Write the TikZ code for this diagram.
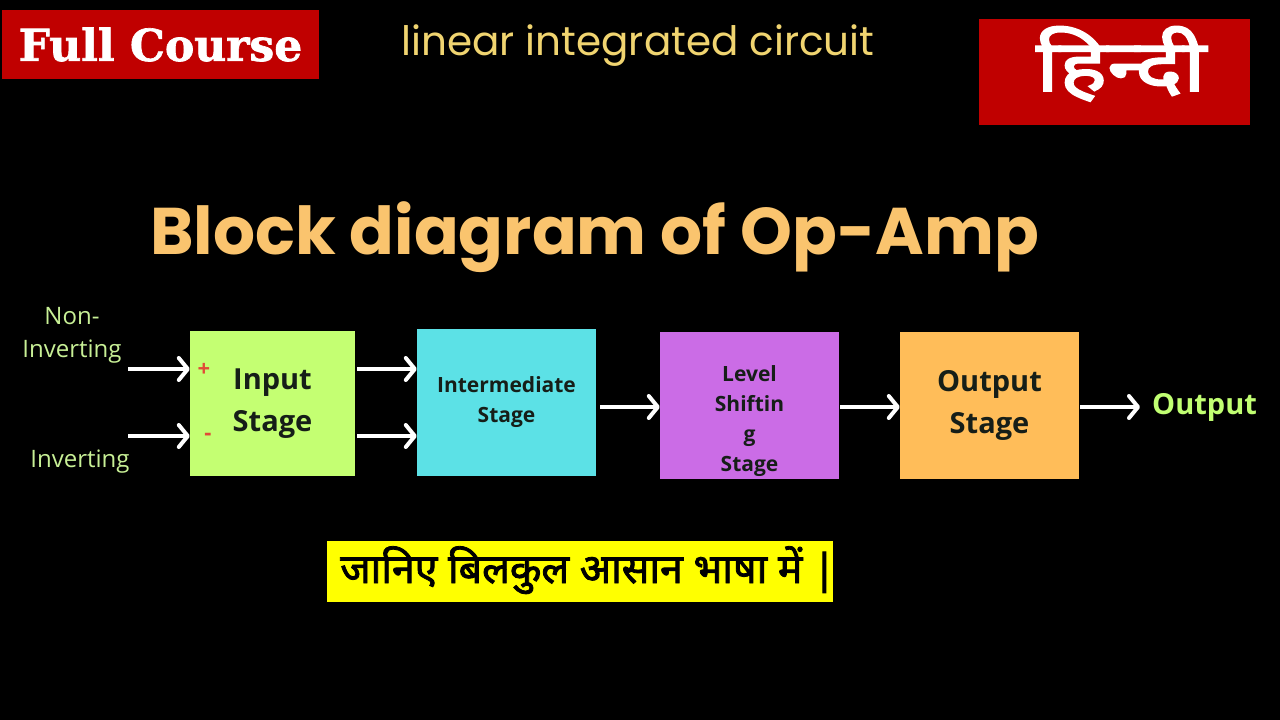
\documentclass[tikz,border=0pt]{standalone}
\usepackage{fontspec}
\usetikzlibrary{arrows.meta,positioning,calc}
\newfontfamily\popfont{Poppins}
\newfontfamily\boxfont{Open Sans}
\newfontfamily\slabfont[FakeBold=1.5]{DejaVu Serif}
\newfontfamily\hindifont[Script=Devanagari, FakeBold=2]{Noto Sans}
\newfontfamily\hinditag[Script=Devanagari, FakeBold=2.5, FakeStretch=1.25]{Noto Sans}
\definecolor{tagred}{RGB}{192,0,0}
\definecolor{subyel}{RGB}{240,212,112}
\definecolor{titleorg}{RGB}{250,196,110}
\definecolor{inlbl}{RGB}{200,240,150}
\definecolor{outlbl}{RGB}{193,255,114}
\definecolor{signred}{RGB}{225,75,55}
\definecolor{stagetext}{RGB}{22,30,24}
\definecolor{inpgreen}{RGB}{196,255,114}
\definecolor{midcyan}{RGB}{92,225,230}
\definecolor{lvlpurple}{RGB}{203,108,230}
\definecolor{outorange}{RGB}{255,189,89}
\definecolor{notebox}{RGB}{255,255,0}

\begin{document}
\begin{tikzpicture}[x=1pt, y=-1pt,
  stagebox/.style={inner sep=0pt, align=center, text=stagetext, font=\boxfont\bfseries},
  wire/.style={draw=white, line width=4pt, -{Straight Barb[length=9pt,width=22pt,round]}},
  inlabel/.style={text=inlbl, align=center, font=\boxfont\fontsize{24}{33}\selectfont},
  sign/.style={text=signred, inner sep=0pt, font=\boxfont\bfseries\fontsize{22}{22}\selectfont}]
\fill[black] (0,0) rectangle (1280,720);
% header tags
\node[fill=tagred, minimum width=317, minimum height=69, inner sep=0pt, text=white,
  font=\slabfont\bfseries\fontsize{44}{44}\selectfont] (full) at (160.5,44.5) {Full Course};
\node[text=subyel, anchor=base, font=\popfont\fontsize{40.5}{40.5}\selectfont] (sub) at (638,55)
  {linear integrated circuit};
\node[fill=tagred, minimum width=271, minimum height=106, inner sep=0pt] (hinbox) at (1114.5,72) {};
\node[text=white, anchor=base, font=\hinditag\fontsize{72}{72}\selectfont] (hin)
  at (1121,91) {हिन्दी};
\node[text=titleorg, anchor=base, font=\popfont\bfseries\fontsize{66}{66}\selectfont] (title)
  at (594.5,254) {Block diagram of Op-Amp};
% stages
\node[stagebox, fill=inpgreen, minimum width=165, minimum height=145,
  font=\boxfont\bfseries\fontsize{29}{42}\selectfont] (inp) at (272.5,403.5) {Input\\Stage};
\node[stagebox, fill=midcyan, minimum width=179, minimum height=147,
  font=\boxfont\bfseries\fontsize{21}{30}\selectfont] (mid) at (506.5,402.5) {Intermediate\\Stage};
\node[stagebox, fill=lvlpurple, minimum width=179, minimum height=147] (lvl) at (749.5,405.5) {};
\node[stagebox, yshift=-16pt, font=\boxfont\bfseries\fontsize{21}{30}\selectfont] (lvlt)
  at (lvl) {Level\\Shiftin\\g\\Stage};
\node[stagebox, fill=outorange, minimum width=179, minimum height=147,
  font=\boxfont\bfseries\fontsize{29}{42}\selectfont] (outs) at (989.5,405.5) {Output\\Stage};
% inputs
\node[inlabel] (ninl) at (72,335) {Non-\\Inverting};
\node[inlabel] (invl) at (80,462) {Inverting};
\node[sign] (plus) at (204,370) {+};
\node[sign] (minus) at (208,437) {-};
\coordinate (nin) at (128,369);
\coordinate (inv) at (128,436);
\node[text=outlbl, anchor=west, inner sep=0pt, font=\boxfont\bfseries\fontsize{29}{29}\selectfont]
  (outl) at (1152,407) {Output};
\draw[wire] (nin) -- (nin -| inp.west);
\draw[wire] (inv) -- (inv -| inp.west);
\draw[wire, shorten <=2pt] (nin -| inp.east) -- (nin -| mid.west);
\draw[wire, shorten <=2pt] (inv -| inp.east) -- (inv -| mid.west);
\draw[wire, shorten <=4pt] (mid.east |- outl) -- (lvl.west |- outl);
\draw[wire, shorten <=1pt] (lvl.east |- outl) -- (outs.west |- outl);
\draw[wire, shorten <=1pt, shorten >=12pt] (outs.east |- outl) -- (outl.west);
% note
\node[fill=notebox, minimum width=506, minimum height=61, inner sep=0pt] (notebg) at (580,571.5) {};
\node[text=black, anchor=base, font=\hindifont\fontsize{41}{41}\selectfont] (note)
  at (588,583) {जानिए बिलकुल आसान भाषा में |};
\end{tikzpicture}
\end{document}
